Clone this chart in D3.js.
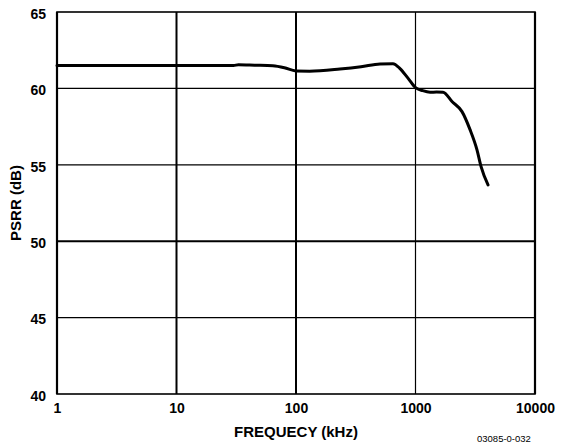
<!DOCTYPE html>
<html>
<head>
<meta charset="utf-8">
<script src="https://cdn.jsdelivr.net/npm/d3@7"></script>
<style>
	body { margin: 0; background: #fff; }
	text { font-family: "Liberation Sans", Arial, sans-serif; fill: #000; }
</style>
</head>
<body>
<svg id="chart" width="561" height="445"></svg>
<script>
// data
var freqKHz = [1, 10, 30, 33, 45, 64, 80, 100, 130, 233, 350, 505, 648, 742, 865, 1000, 1150, 1323, 1500, 1700, 2020, 2450, 2860, 3270, 3533, 4045];
var psrrDb = [61.5, 61.5, 61.5, 61.55, 61.52, 61.48, 61.35, 61.14, 61.13, 61.27, 61.42, 61.6, 61.62, 61.3, 60.67, 60.05, 59.85, 59.75, 59.76, 59.75, 59.14, 58.48, 57.3, 55.98, 54.9, 53.69];
var xTicks = [1, 10, 100, 1000, 10000];
var yTicks = [40, 45, 50, 55, 60, 65];
var thickX = [10, 100];
var thickY = [50];

var margin = { top: 12, right: 26, bottom: 51, left: 57 },
	width = 561 - margin.left - margin.right,
	height = 445 - margin.top - margin.bottom;

var svg = d3.select("#chart");
var g = svg.append("g")
	.attr("transform", "translate(" + margin.left + "," + margin.top + ")");

var x = d3.scaleLog().domain([1, 10000]).range([0, width]);
var y = d3.scaleLinear().domain([40, 65]).range([height, 0]);

// grid
g.selectAll("line.vgrid").data(xTicks.slice(1, -1))
	.enter().append("line")
	.attr("class", "vgrid")
	.attr("x1", d => x(d)).attr("x2", d => x(d))
	.attr("y1", 0).attr("y2", height)
	.attr("stroke", "#000")
	.attr("stroke-width", d => thickX.indexOf(d) >= 0 ? 2 : 1.2);

g.selectAll("line.hgrid").data(yTicks.slice(1, -1))
	.enter().append("line")
	.attr("class", "hgrid")
	.attr("x1", 0).attr("x2", width)
	.attr("y1", d => y(d)).attr("y2", d => y(d))
	.attr("stroke", "#000")
	.attr("stroke-width", d => thickY.indexOf(d) >= 0 ? 2 : 1.2);

// frame
g.append("rect")
	.attr("width", width).attr("height", height)
	.attr("fill", "none")
	.attr("stroke", "#000")
	.attr("stroke-width", 1.6);
g.append("line")
	.attr("x1", 0).attr("x2", 0).attr("y1", 0).attr("y2", height)
	.attr("stroke", "#000").attr("stroke-width", 2.2);
g.append("line")
	.attr("x1", width).attr("x2", width).attr("y1", 0).attr("y2", height)
	.attr("stroke", "#000").attr("stroke-width", 2.2);

// tick labels
var xAxis = d3.axisBottom(x).tickValues(xTicks).tickFormat(d3.format("d")).tickSize(0).tickPadding(9);
g.append("g")
	.attr("transform", "translate(0," + height + ")")
	.call(xAxis)
	.call(s => s.select(".domain").remove())
	.selectAll("text")
	.style("font-size", "14px").style("font-weight", "bold")
	.style("font-family", "'Liberation Sans', Arial, sans-serif");

var yAxis = d3.axisLeft(y).tickValues(yTicks).tickSize(0).tickPadding(11);
g.append("g")
	.call(yAxis)
	.call(s => s.select(".domain").remove())
	.selectAll("text")
	.attr("dy", "0.45em")
	.style("font-size", "14px").style("font-weight", "bold")
	.style("font-family", "'Liberation Sans', Arial, sans-serif");

// curve
var line = d3.line()
	.x((d, i) => x(freqKHz[i]))
	.y(d => y(d))
	.curve(d3.curveMonotoneX);

g.append("path")
	.datum(psrrDb)
	.attr("d", line)
	.attr("fill", "none")
	.attr("stroke", "#000")
	.attr("stroke-width", 3)
	.attr("stroke-linejoin", "round")
	.attr("stroke-linecap", "round");

// axis titles
svg.append("text")
	.attr("x", margin.left + width / 2)
	.attr("y", 437)
	.attr("text-anchor", "middle")
	.style("font-size", "15px").style("font-weight", "bold")
	.text("FREQUECY (kHz)");

svg.append("text")
	.attr("transform", "translate(21," + (margin.top + height / 2) + ") rotate(-90)")
	.attr("text-anchor", "middle")
	.style("font-size", "15px").style("font-weight", "bold")
	.text("PSRR (dB)");

svg.append("text")
	.attr("x", 477)
	.attr("y", 442)
	.style("font-size", "9.5px")
	.text("03085-0-032");
</script>
</body>
</html>
